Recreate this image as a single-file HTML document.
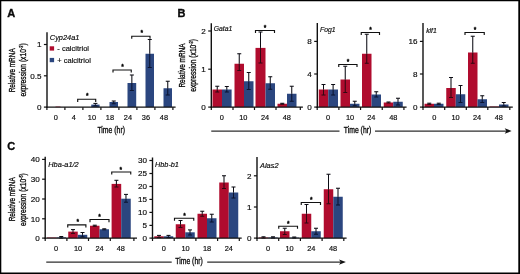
<!DOCTYPE html>
<html><head><meta charset="utf-8"><title>Figure</title>
<style>
html,body{margin:0;padding:0;background:#fff;}
body{width:520px;height:274px;overflow:hidden;}
svg{display:block;font-family:"Liberation Sans",sans-serif;fill:#0a0a0a;}
text{stroke:#0a0a0a;stroke-width:0.16px;}
.cn{stroke-width:0.34px;}
</style></head><body>
<svg width="520" height="274" viewBox="0 0 520 274">
<rect x="0" y="0" width="520" height="274" fill="#fff"/>
<rect x="55.50" y="106.60" width="5.00" height="0.55" fill="#b00c2e"/>
<rect x="91.25" y="104.60" width="8.35" height="2.55" fill="#2b467f"/>
<line x1="95.42" y1="103.40" x2="95.42" y2="104.60" stroke="#0c0c14" stroke-width="1.05"/>
<line x1="95.42" y1="104.60" x2="95.42" y2="105.80" stroke="#0b1430" stroke-width="1.05"/>
<line x1="93.42" y1="105.80" x2="97.42" y2="105.80" stroke="#0b1430" stroke-width="1.05"/>
<line x1="93.42" y1="103.40" x2="97.42" y2="103.40" stroke="#0c0c14" stroke-width="1.05"/>
<rect x="109.50" y="102.00" width="8.50" height="5.15" fill="#2b467f"/>
<line x1="113.75" y1="101.00" x2="113.75" y2="102.00" stroke="#0c0c14" stroke-width="1.05"/>
<line x1="113.75" y1="102.00" x2="113.75" y2="103.75" stroke="#0b1430" stroke-width="1.05"/>
<line x1="111.75" y1="103.75" x2="115.75" y2="103.75" stroke="#0b1430" stroke-width="1.05"/>
<line x1="111.75" y1="101.00" x2="115.75" y2="101.00" stroke="#0c0c14" stroke-width="1.05"/>
<rect x="127.50" y="83.00" width="8.70" height="24.15" fill="#2b467f"/>
<line x1="131.85" y1="75.00" x2="131.85" y2="83.00" stroke="#0c0c14" stroke-width="1.05"/>
<line x1="131.85" y1="83.00" x2="131.85" y2="90.50" stroke="#0b1430" stroke-width="1.05"/>
<line x1="129.85" y1="90.50" x2="133.85" y2="90.50" stroke="#0b1430" stroke-width="1.05"/>
<line x1="129.85" y1="75.00" x2="133.85" y2="75.00" stroke="#0c0c14" stroke-width="1.05"/>
<rect x="145.50" y="53.75" width="8.50" height="53.40" fill="#2b467f"/>
<line x1="149.75" y1="39.50" x2="149.75" y2="53.75" stroke="#0c0c14" stroke-width="1.05"/>
<line x1="149.75" y1="53.75" x2="149.75" y2="67.50" stroke="#0b1430" stroke-width="1.05"/>
<line x1="147.75" y1="67.50" x2="151.75" y2="67.50" stroke="#0b1430" stroke-width="1.05"/>
<line x1="147.75" y1="39.50" x2="151.75" y2="39.50" stroke="#0c0c14" stroke-width="1.05"/>
<rect x="163.50" y="88.25" width="8.50" height="18.90" fill="#2b467f"/>
<line x1="167.75" y1="81.25" x2="167.75" y2="88.25" stroke="#0c0c14" stroke-width="1.05"/>
<line x1="167.75" y1="88.25" x2="167.75" y2="95.00" stroke="#0b1430" stroke-width="1.05"/>
<line x1="165.75" y1="95.00" x2="169.75" y2="95.00" stroke="#0b1430" stroke-width="1.05"/>
<line x1="165.75" y1="81.25" x2="169.75" y2="81.25" stroke="#0c0c14" stroke-width="1.05"/>
<line x1="47.00" y1="32.30" x2="47.00" y2="107.85" stroke="#111" stroke-width="1.4"/>
<line x1="46.30" y1="107.15" x2="175.60" y2="107.15" stroke="#111" stroke-width="1.4"/>
<line x1="46.90" y1="107.15" x2="46.90" y2="110.05" stroke="#111" stroke-width="1.2"/>
<line x1="64.90" y1="107.15" x2="64.90" y2="110.05" stroke="#111" stroke-width="1.2"/>
<line x1="82.90" y1="107.15" x2="82.90" y2="110.05" stroke="#111" stroke-width="1.2"/>
<line x1="100.90" y1="107.15" x2="100.90" y2="110.05" stroke="#111" stroke-width="1.2"/>
<line x1="118.90" y1="107.15" x2="118.90" y2="110.05" stroke="#111" stroke-width="1.2"/>
<line x1="136.90" y1="107.15" x2="136.90" y2="110.05" stroke="#111" stroke-width="1.2"/>
<line x1="154.90" y1="107.15" x2="154.90" y2="110.05" stroke="#111" stroke-width="1.2"/>
<line x1="172.90" y1="107.15" x2="172.90" y2="110.05" stroke="#111" stroke-width="1.2"/>
<text x="55.90" y="120.00" font-size="7.4" text-anchor="middle"  >0</text>
<text x="73.90" y="120.00" font-size="7.4" text-anchor="middle"  >4</text>
<text x="91.90" y="120.00" font-size="7.4" text-anchor="middle"  >10</text>
<text x="109.90" y="120.00" font-size="7.4" text-anchor="middle"  >18</text>
<text x="127.90" y="120.00" font-size="7.4" text-anchor="middle"  >24</text>
<text x="145.90" y="120.00" font-size="7.4" text-anchor="middle"  >36</text>
<text x="163.90" y="120.00" font-size="7.4" text-anchor="middle"  >48</text>
<line x1="43.90" y1="44.50" x2="47.00" y2="44.50" stroke="#111" stroke-width="1.2"/>
<text x="41.50" y="47.35" font-size="8.1" text-anchor="end"  >1</text>
<line x1="43.90" y1="75.80" x2="47.00" y2="75.80" stroke="#111" stroke-width="1.2"/>
<text x="41.50" y="78.65" font-size="8.1" text-anchor="end"  >0.5</text>
<line x1="43.90" y1="107.10" x2="47.00" y2="107.10" stroke="#111" stroke-width="1.2"/>
<text x="41.50" y="109.95" font-size="8.1" text-anchor="end"  >0</text>
<text x="49.80" y="40.40" font-size="7.4" text-anchor="start" font-style="italic" >Cyp24a1</text>
<polyline points="77.70,102.00 77.70,99.20 95.70,99.20 95.70,102.00" fill="none" stroke="#111" stroke-width="1.15"/>
<text x="87.40" y="98.00" font-size="6.6" text-anchor="middle" style="stroke-width:0.45px" >*</text>
<polyline points="113.00,72.60 113.00,70.00 131.25,70.00 131.25,72.60" fill="none" stroke="#111" stroke-width="1.15"/>
<text x="122.50" y="69.00" font-size="6.6" text-anchor="middle" style="stroke-width:0.45px" >*</text>
<polyline points="131.75,38.85 131.75,36.25 150.00,36.25 150.00,38.85" fill="none" stroke="#111" stroke-width="1.15"/>
<text x="141.75" y="34.75" font-size="6.6" text-anchor="middle" style="stroke-width:0.45px" >*</text>
<rect x="49.70" y="46.30" width="4.40" height="4.30" fill="#b00c2e"/>
<rect x="49.70" y="57.90" width="4.40" height="4.30" fill="#2b467f"/>
<text x="57.30" y="51.00" font-size="7.5" text-anchor="start"  >- calcitriol</text>
<text x="57.30" y="62.50" font-size="7.5" text-anchor="start"  >+ calcitriol</text>
<text class="cn" transform="translate(15.10,70.30) rotate(-90)" font-size="9.6" text-anchor="middle" textLength="44.0" lengthAdjust="spacingAndGlyphs">Relative mRNA</text>
<text class="cn" transform="translate(26.40,69.90) rotate(-90)" font-size="9.6" text-anchor="middle" textLength="53.2" lengthAdjust="spacingAndGlyphs">expression (x10<tspan font-size="5.6" dy="-3.2">-3</tspan><tspan dy="3.2">)</tspan></text>
<text x="111.2" y="133.3" class="cn" font-size="9" text-anchor="middle" textLength="27.6" lengthAdjust="spacingAndGlyphs">Time (hr)</text>
<rect x="212.50" y="89.50" width="9.50" height="17.60" fill="#b00c2e"/>
<line x1="217.25" y1="86.25" x2="217.25" y2="89.50" stroke="#0c0c14" stroke-width="1.05"/>
<line x1="217.25" y1="89.50" x2="217.25" y2="92.00" stroke="#330812" stroke-width="1.05"/>
<line x1="215.25" y1="92.00" x2="219.25" y2="92.00" stroke="#330812" stroke-width="1.05"/>
<line x1="215.25" y1="86.25" x2="219.25" y2="86.25" stroke="#0c0c14" stroke-width="1.05"/>
<rect x="222.00" y="89.50" width="9.60" height="17.60" fill="#2b467f"/>
<line x1="226.80" y1="86.50" x2="226.80" y2="89.50" stroke="#0c0c14" stroke-width="1.05"/>
<line x1="226.80" y1="89.50" x2="226.80" y2="92.00" stroke="#0b1430" stroke-width="1.05"/>
<line x1="224.80" y1="92.00" x2="228.80" y2="92.00" stroke="#0b1430" stroke-width="1.05"/>
<line x1="224.80" y1="86.50" x2="228.80" y2="86.50" stroke="#0c0c14" stroke-width="1.05"/>
<rect x="234.50" y="63.75" width="9.50" height="43.35" fill="#b00c2e"/>
<line x1="239.25" y1="53.75" x2="239.25" y2="63.75" stroke="#0c0c14" stroke-width="1.05"/>
<line x1="239.25" y1="63.75" x2="239.25" y2="70.50" stroke="#330812" stroke-width="1.05"/>
<line x1="237.25" y1="70.50" x2="241.25" y2="70.50" stroke="#330812" stroke-width="1.05"/>
<line x1="237.25" y1="53.75" x2="241.25" y2="53.75" stroke="#0c0c14" stroke-width="1.05"/>
<rect x="244.00" y="81.25" width="9.50" height="25.85" fill="#2b467f"/>
<line x1="248.75" y1="72.50" x2="248.75" y2="81.25" stroke="#0c0c14" stroke-width="1.05"/>
<line x1="248.75" y1="81.25" x2="248.75" y2="89.50" stroke="#0b1430" stroke-width="1.05"/>
<line x1="246.75" y1="89.50" x2="250.75" y2="89.50" stroke="#0b1430" stroke-width="1.05"/>
<line x1="246.75" y1="72.50" x2="250.75" y2="72.50" stroke="#0c0c14" stroke-width="1.05"/>
<rect x="255.50" y="47.90" width="10.00" height="59.20" fill="#b00c2e"/>
<line x1="260.50" y1="32.00" x2="260.50" y2="47.90" stroke="#0c0c14" stroke-width="1.05"/>
<line x1="260.50" y1="47.90" x2="260.50" y2="63.00" stroke="#330812" stroke-width="1.05"/>
<line x1="258.50" y1="63.00" x2="262.50" y2="63.00" stroke="#330812" stroke-width="1.05"/>
<line x1="258.50" y1="32.00" x2="262.50" y2="32.00" stroke="#0c0c14" stroke-width="1.05"/>
<rect x="265.50" y="83.25" width="9.50" height="23.85" fill="#2b467f"/>
<line x1="270.25" y1="76.75" x2="270.25" y2="83.25" stroke="#0c0c14" stroke-width="1.05"/>
<line x1="270.25" y1="83.25" x2="270.25" y2="89.25" stroke="#0b1430" stroke-width="1.05"/>
<line x1="268.25" y1="89.25" x2="272.25" y2="89.25" stroke="#0b1430" stroke-width="1.05"/>
<line x1="268.25" y1="76.75" x2="272.25" y2="76.75" stroke="#0c0c14" stroke-width="1.05"/>
<rect x="277.50" y="103.75" width="9.50" height="3.35" fill="#b00c2e"/>
<line x1="282.25" y1="103.30" x2="282.25" y2="103.75" stroke="#0c0c14" stroke-width="1.05"/>
<line x1="282.25" y1="103.75" x2="282.25" y2="104.30" stroke="#330812" stroke-width="1.05"/>
<line x1="280.25" y1="104.30" x2="284.25" y2="104.30" stroke="#330812" stroke-width="1.05"/>
<line x1="280.25" y1="103.30" x2="284.25" y2="103.30" stroke="#0c0c14" stroke-width="1.05"/>
<rect x="287.00" y="93.75" width="9.50" height="13.35" fill="#2b467f"/>
<line x1="291.75" y1="86.25" x2="291.75" y2="93.75" stroke="#0c0c14" stroke-width="1.05"/>
<line x1="291.75" y1="93.75" x2="291.75" y2="101.25" stroke="#0b1430" stroke-width="1.05"/>
<line x1="289.75" y1="101.25" x2="293.75" y2="101.25" stroke="#0b1430" stroke-width="1.05"/>
<line x1="289.75" y1="86.25" x2="293.75" y2="86.25" stroke="#0c0c14" stroke-width="1.05"/>
<line x1="211.30" y1="23.20" x2="211.30" y2="107.80" stroke="#111" stroke-width="1.4"/>
<line x1="210.60" y1="107.10" x2="302.90" y2="107.10" stroke="#111" stroke-width="1.4"/>
<line x1="211.30" y1="107.10" x2="211.30" y2="110.00" stroke="#111" stroke-width="1.2"/>
<line x1="233.00" y1="107.10" x2="233.00" y2="110.00" stroke="#111" stroke-width="1.2"/>
<line x1="254.50" y1="107.10" x2="254.50" y2="110.00" stroke="#111" stroke-width="1.2"/>
<line x1="276.00" y1="107.10" x2="276.00" y2="110.00" stroke="#111" stroke-width="1.2"/>
<line x1="300.30" y1="107.10" x2="300.30" y2="110.00" stroke="#111" stroke-width="1.2"/>
<text x="221.75" y="120.00" font-size="7.4" text-anchor="middle"  >0</text>
<text x="243.25" y="120.00" font-size="7.4" text-anchor="middle"  >10</text>
<text x="265.00" y="120.00" font-size="7.4" text-anchor="middle"  >24</text>
<text x="286.75" y="120.00" font-size="7.4" text-anchor="middle"  >48</text>
<line x1="208.20" y1="31.00" x2="211.30" y2="31.00" stroke="#111" stroke-width="1.2"/>
<text x="205.80" y="33.85" font-size="8.1" text-anchor="end"  >2</text>
<line x1="208.20" y1="69.20" x2="211.30" y2="69.20" stroke="#111" stroke-width="1.2"/>
<text x="205.80" y="72.05" font-size="8.1" text-anchor="end"  >1</text>
<line x1="208.20" y1="107.10" x2="211.30" y2="107.10" stroke="#111" stroke-width="1.2"/>
<text x="205.80" y="109.95" font-size="8.1" text-anchor="end"  >0</text>
<text x="213.80" y="31.20" font-size="6.8" text-anchor="start" font-style="italic" >Gata1</text>
<polyline points="255.50,32.90 255.50,30.50 274.50,30.50 274.50,32.90" fill="none" stroke="#111" stroke-width="1.15"/>
<text x="265.00" y="29.50" font-size="6.6" text-anchor="middle" style="stroke-width:0.45px" >*</text>
<text class="cn" transform="translate(185.10,65.50) rotate(-90)" font-size="9.6" text-anchor="middle" textLength="44.2" lengthAdjust="spacingAndGlyphs">Relative mRNA</text>
<text class="cn" transform="translate(196.20,65.40) rotate(-90)" font-size="9.6" text-anchor="middle" textLength="52.8" lengthAdjust="spacingAndGlyphs">expression (x10<tspan font-size="5.6" dy="-3.2">-3</tspan><tspan dy="3.2">)</tspan></text>
<rect x="318.75" y="89.50" width="9.50" height="17.60" fill="#b00c2e"/>
<line x1="323.50" y1="84.50" x2="323.50" y2="89.50" stroke="#0c0c14" stroke-width="1.05"/>
<line x1="323.50" y1="89.50" x2="323.50" y2="95.00" stroke="#330812" stroke-width="1.05"/>
<line x1="321.50" y1="95.00" x2="325.50" y2="95.00" stroke="#330812" stroke-width="1.05"/>
<line x1="321.50" y1="84.50" x2="325.50" y2="84.50" stroke="#0c0c14" stroke-width="1.05"/>
<rect x="328.25" y="89.50" width="9.75" height="17.60" fill="#2b467f"/>
<line x1="333.12" y1="84.50" x2="333.12" y2="89.50" stroke="#0c0c14" stroke-width="1.05"/>
<line x1="333.12" y1="89.50" x2="333.12" y2="95.00" stroke="#0b1430" stroke-width="1.05"/>
<line x1="331.12" y1="95.00" x2="335.12" y2="95.00" stroke="#0b1430" stroke-width="1.05"/>
<line x1="331.12" y1="84.50" x2="335.12" y2="84.50" stroke="#0c0c14" stroke-width="1.05"/>
<rect x="340.50" y="79.50" width="9.50" height="27.60" fill="#b00c2e"/>
<line x1="345.25" y1="66.25" x2="345.25" y2="79.50" stroke="#0c0c14" stroke-width="1.05"/>
<line x1="345.25" y1="79.50" x2="345.25" y2="92.50" stroke="#330812" stroke-width="1.05"/>
<line x1="343.25" y1="92.50" x2="347.25" y2="92.50" stroke="#330812" stroke-width="1.05"/>
<line x1="343.25" y1="66.25" x2="347.25" y2="66.25" stroke="#0c0c14" stroke-width="1.05"/>
<rect x="350.00" y="103.75" width="9.50" height="3.35" fill="#2b467f"/>
<line x1="354.75" y1="101.25" x2="354.75" y2="103.75" stroke="#0c0c14" stroke-width="1.05"/>
<line x1="354.75" y1="103.75" x2="354.75" y2="105.75" stroke="#0b1430" stroke-width="1.05"/>
<line x1="352.75" y1="105.75" x2="356.75" y2="105.75" stroke="#0b1430" stroke-width="1.05"/>
<line x1="352.75" y1="101.25" x2="356.75" y2="101.25" stroke="#0c0c14" stroke-width="1.05"/>
<rect x="362.00" y="53.75" width="9.50" height="53.35" fill="#b00c2e"/>
<line x1="366.75" y1="34.25" x2="366.75" y2="53.75" stroke="#0c0c14" stroke-width="1.05"/>
<line x1="366.75" y1="53.75" x2="366.75" y2="63.25" stroke="#330812" stroke-width="1.05"/>
<line x1="364.75" y1="63.25" x2="368.75" y2="63.25" stroke="#330812" stroke-width="1.05"/>
<line x1="364.75" y1="34.25" x2="368.75" y2="34.25" stroke="#0c0c14" stroke-width="1.05"/>
<rect x="371.50" y="94.50" width="9.50" height="12.60" fill="#2b467f"/>
<line x1="376.25" y1="91.75" x2="376.25" y2="94.50" stroke="#0c0c14" stroke-width="1.05"/>
<line x1="376.25" y1="94.50" x2="376.25" y2="97.00" stroke="#0b1430" stroke-width="1.05"/>
<line x1="374.25" y1="97.00" x2="378.25" y2="97.00" stroke="#0b1430" stroke-width="1.05"/>
<line x1="374.25" y1="91.75" x2="378.25" y2="91.75" stroke="#0c0c14" stroke-width="1.05"/>
<rect x="383.75" y="102.50" width="9.50" height="4.60" fill="#b00c2e"/>
<line x1="388.50" y1="102.00" x2="388.50" y2="102.50" stroke="#0c0c14" stroke-width="1.05"/>
<line x1="388.50" y1="102.50" x2="388.50" y2="103.00" stroke="#330812" stroke-width="1.05"/>
<line x1="386.50" y1="103.00" x2="390.50" y2="103.00" stroke="#330812" stroke-width="1.05"/>
<line x1="386.50" y1="102.00" x2="390.50" y2="102.00" stroke="#0c0c14" stroke-width="1.05"/>
<rect x="393.25" y="101.75" width="9.50" height="5.35" fill="#2b467f"/>
<line x1="398.00" y1="98.25" x2="398.00" y2="101.75" stroke="#0c0c14" stroke-width="1.05"/>
<line x1="398.00" y1="101.75" x2="398.00" y2="105.00" stroke="#0b1430" stroke-width="1.05"/>
<line x1="396.00" y1="105.00" x2="400.00" y2="105.00" stroke="#0b1430" stroke-width="1.05"/>
<line x1="396.00" y1="98.25" x2="400.00" y2="98.25" stroke="#0c0c14" stroke-width="1.05"/>
<line x1="317.30" y1="23.00" x2="317.30" y2="107.80" stroke="#111" stroke-width="1.4"/>
<line x1="316.60" y1="107.10" x2="406.60" y2="107.10" stroke="#111" stroke-width="1.4"/>
<line x1="317.20" y1="107.10" x2="317.20" y2="110.00" stroke="#111" stroke-width="1.2"/>
<line x1="338.88" y1="107.10" x2="338.88" y2="110.00" stroke="#111" stroke-width="1.2"/>
<line x1="360.56" y1="107.10" x2="360.56" y2="110.00" stroke="#111" stroke-width="1.2"/>
<line x1="382.24" y1="107.10" x2="382.24" y2="110.00" stroke="#111" stroke-width="1.2"/>
<line x1="403.92" y1="107.10" x2="403.92" y2="110.00" stroke="#111" stroke-width="1.2"/>
<text x="328.00" y="120.00" font-size="7.4" text-anchor="middle"  >0</text>
<text x="350.00" y="120.00" font-size="7.4" text-anchor="middle"  >10</text>
<text x="371.25" y="120.00" font-size="7.4" text-anchor="middle"  >24</text>
<text x="393.25" y="120.00" font-size="7.4" text-anchor="middle"  >48</text>
<line x1="314.20" y1="41.40" x2="317.30" y2="41.40" stroke="#111" stroke-width="1.2"/>
<text x="311.80" y="44.25" font-size="8.1" text-anchor="end"  >8</text>
<line x1="314.20" y1="74.00" x2="317.30" y2="74.00" stroke="#111" stroke-width="1.2"/>
<text x="311.80" y="76.85" font-size="8.1" text-anchor="end"  >4</text>
<line x1="314.20" y1="107.10" x2="317.30" y2="107.10" stroke="#111" stroke-width="1.2"/>
<text x="311.80" y="109.95" font-size="8.1" text-anchor="end"  >0</text>
<text x="320.00" y="31.80" font-size="6.8" text-anchor="start" font-style="italic" >Fog1</text>
<polyline points="361.25,34.90 361.25,32.50 379.50,32.50 379.50,34.90" fill="none" stroke="#111" stroke-width="1.15"/>
<text x="370.50" y="31.50" font-size="6.6" text-anchor="middle" style="stroke-width:0.45px" >*</text>
<polyline points="338.75,66.90 338.75,64.50 357.00,64.50 357.00,66.90" fill="none" stroke="#111" stroke-width="1.15"/>
<text x="348.00" y="63.50" font-size="6.6" text-anchor="middle" style="stroke-width:0.45px" >*</text>
<rect x="424.50" y="103.75" width="9.50" height="3.35" fill="#b00c2e"/>
<line x1="429.25" y1="103.20" x2="429.25" y2="103.75" stroke="#0c0c14" stroke-width="1.05"/>
<line x1="429.25" y1="103.75" x2="429.25" y2="104.40" stroke="#330812" stroke-width="1.05"/>
<line x1="427.25" y1="104.40" x2="431.25" y2="104.40" stroke="#330812" stroke-width="1.05"/>
<line x1="427.25" y1="103.20" x2="431.25" y2="103.20" stroke="#0c0c14" stroke-width="1.05"/>
<rect x="434.00" y="103.75" width="9.50" height="3.35" fill="#2b467f"/>
<line x1="438.75" y1="103.20" x2="438.75" y2="103.75" stroke="#0c0c14" stroke-width="1.05"/>
<line x1="438.75" y1="103.75" x2="438.75" y2="104.40" stroke="#0b1430" stroke-width="1.05"/>
<line x1="436.75" y1="104.40" x2="440.75" y2="104.40" stroke="#0b1430" stroke-width="1.05"/>
<line x1="436.75" y1="103.20" x2="440.75" y2="103.20" stroke="#0c0c14" stroke-width="1.05"/>
<rect x="446.25" y="88.00" width="9.50" height="19.10" fill="#b00c2e"/>
<line x1="451.00" y1="77.50" x2="451.00" y2="88.00" stroke="#0c0c14" stroke-width="1.05"/>
<line x1="451.00" y1="88.00" x2="451.00" y2="97.50" stroke="#330812" stroke-width="1.05"/>
<line x1="449.00" y1="97.50" x2="453.00" y2="97.50" stroke="#330812" stroke-width="1.05"/>
<line x1="449.00" y1="77.50" x2="453.00" y2="77.50" stroke="#0c0c14" stroke-width="1.05"/>
<rect x="455.75" y="94.25" width="9.50" height="12.85" fill="#2b467f"/>
<line x1="460.50" y1="85.50" x2="460.50" y2="94.25" stroke="#0c0c14" stroke-width="1.05"/>
<line x1="460.50" y1="94.25" x2="460.50" y2="102.50" stroke="#0b1430" stroke-width="1.05"/>
<line x1="458.50" y1="102.50" x2="462.50" y2="102.50" stroke="#0b1430" stroke-width="1.05"/>
<line x1="458.50" y1="85.50" x2="462.50" y2="85.50" stroke="#0c0c14" stroke-width="1.05"/>
<rect x="468.00" y="52.50" width="9.50" height="54.60" fill="#b00c2e"/>
<line x1="472.75" y1="36.25" x2="472.75" y2="52.50" stroke="#0c0c14" stroke-width="1.05"/>
<line x1="472.75" y1="52.50" x2="472.75" y2="63.25" stroke="#330812" stroke-width="1.05"/>
<line x1="470.75" y1="63.25" x2="474.75" y2="63.25" stroke="#330812" stroke-width="1.05"/>
<line x1="470.75" y1="36.25" x2="474.75" y2="36.25" stroke="#0c0c14" stroke-width="1.05"/>
<rect x="477.50" y="99.25" width="9.50" height="7.85" fill="#2b467f"/>
<line x1="482.25" y1="95.75" x2="482.25" y2="99.25" stroke="#0c0c14" stroke-width="1.05"/>
<line x1="482.25" y1="99.25" x2="482.25" y2="102.50" stroke="#0b1430" stroke-width="1.05"/>
<line x1="480.25" y1="102.50" x2="484.25" y2="102.50" stroke="#0b1430" stroke-width="1.05"/>
<line x1="480.25" y1="95.75" x2="484.25" y2="95.75" stroke="#0c0c14" stroke-width="1.05"/>
<rect x="489.50" y="106.50" width="9.50" height="0.60" fill="#b00c2e"/>
<rect x="499.00" y="104.50" width="9.50" height="2.60" fill="#2b467f"/>
<line x1="503.75" y1="102.50" x2="503.75" y2="104.50" stroke="#0c0c14" stroke-width="1.05"/>
<line x1="503.75" y1="104.50" x2="503.75" y2="106.00" stroke="#0b1430" stroke-width="1.05"/>
<line x1="501.75" y1="106.00" x2="505.75" y2="106.00" stroke="#0b1430" stroke-width="1.05"/>
<line x1="501.75" y1="102.50" x2="505.75" y2="102.50" stroke="#0c0c14" stroke-width="1.05"/>
<line x1="423.00" y1="23.00" x2="423.00" y2="107.80" stroke="#111" stroke-width="1.4"/>
<line x1="422.30" y1="107.10" x2="512.80" y2="107.10" stroke="#111" stroke-width="1.4"/>
<line x1="423.00" y1="107.10" x2="423.00" y2="110.00" stroke="#111" stroke-width="1.2"/>
<line x1="444.70" y1="107.10" x2="444.70" y2="110.00" stroke="#111" stroke-width="1.2"/>
<line x1="466.30" y1="107.10" x2="466.30" y2="110.00" stroke="#111" stroke-width="1.2"/>
<line x1="487.80" y1="107.10" x2="487.80" y2="110.00" stroke="#111" stroke-width="1.2"/>
<line x1="509.80" y1="107.10" x2="509.80" y2="110.00" stroke="#111" stroke-width="1.2"/>
<text x="434.25" y="120.00" font-size="7.4" text-anchor="middle"  >0</text>
<text x="455.50" y="120.00" font-size="7.4" text-anchor="middle"  >10</text>
<text x="477.00" y="120.00" font-size="7.4" text-anchor="middle"  >24</text>
<text x="498.75" y="120.00" font-size="7.4" text-anchor="middle"  >48</text>
<line x1="419.90" y1="41.40" x2="423.00" y2="41.40" stroke="#111" stroke-width="1.2"/>
<text x="417.50" y="44.25" font-size="8.1" text-anchor="end"  >16</text>
<line x1="419.90" y1="74.00" x2="423.00" y2="74.00" stroke="#111" stroke-width="1.2"/>
<text x="417.50" y="76.85" font-size="8.1" text-anchor="end"  >8</text>
<line x1="419.90" y1="107.10" x2="423.00" y2="107.10" stroke="#111" stroke-width="1.2"/>
<text x="417.50" y="109.95" font-size="8.1" text-anchor="end"  >0</text>
<text x="426.20" y="32.90" font-size="6.8" text-anchor="start" font-style="italic" >klf1</text>
<polyline points="465.00,34.90 465.00,32.50 484.25,32.50 484.25,34.90" fill="none" stroke="#111" stroke-width="1.15"/>
<text x="475.00" y="31.50" font-size="6.6" text-anchor="middle" style="stroke-width:0.45px" >*</text>
<line x1="211.25" y1="131.00" x2="339.50" y2="131.00" stroke="#2e2e2e" stroke-width="1.25"/>
<line x1="375.00" y1="131.00" x2="507.60" y2="131.00" stroke="#2e2e2e" stroke-width="1.25"/>
<path d="M511.60,131.00 L504.70,128.30 L506.40,131.00 L504.70,133.70 Z" fill="#111"/>
<text x="357.5" y="132.50" class="cn" font-size="9" text-anchor="middle" textLength="27.5" lengthAdjust="spacingAndGlyphs">Time (hr)</text>
<rect x="47.00" y="237.50" width="9.50" height="0.60" fill="#b00c2e"/>
<rect x="56.50" y="237.40" width="9.50" height="0.70" fill="#2b467f"/>
<line x1="61.25" y1="236.50" x2="61.25" y2="237.40" stroke="#0c0c14" stroke-width="1.05"/>
<line x1="61.25" y1="237.40" x2="61.25" y2="238.00" stroke="#0b1430" stroke-width="1.05"/>
<line x1="59.25" y1="238.00" x2="63.25" y2="238.00" stroke="#0b1430" stroke-width="1.05"/>
<line x1="59.25" y1="236.50" x2="63.25" y2="236.50" stroke="#0c0c14" stroke-width="1.05"/>
<rect x="68.25" y="231.60" width="9.50" height="6.50" fill="#b00c2e"/>
<line x1="73.00" y1="229.60" x2="73.00" y2="231.60" stroke="#0c0c14" stroke-width="1.05"/>
<line x1="73.00" y1="231.60" x2="73.00" y2="233.40" stroke="#330812" stroke-width="1.05"/>
<line x1="71.00" y1="233.40" x2="75.00" y2="233.40" stroke="#330812" stroke-width="1.05"/>
<line x1="71.00" y1="229.60" x2="75.00" y2="229.60" stroke="#0c0c14" stroke-width="1.05"/>
<rect x="77.75" y="234.80" width="9.50" height="3.30" fill="#2b467f"/>
<line x1="82.50" y1="232.50" x2="82.50" y2="234.80" stroke="#0c0c14" stroke-width="1.05"/>
<line x1="82.50" y1="234.80" x2="82.50" y2="236.80" stroke="#0b1430" stroke-width="1.05"/>
<line x1="80.50" y1="236.80" x2="84.50" y2="236.80" stroke="#0b1430" stroke-width="1.05"/>
<line x1="80.50" y1="232.50" x2="84.50" y2="232.50" stroke="#0c0c14" stroke-width="1.05"/>
<rect x="90.00" y="225.75" width="9.50" height="12.35" fill="#b00c2e"/>
<line x1="94.75" y1="225.20" x2="94.75" y2="225.75" stroke="#0c0c14" stroke-width="1.05"/>
<line x1="94.75" y1="225.75" x2="94.75" y2="226.30" stroke="#330812" stroke-width="1.05"/>
<line x1="92.75" y1="226.30" x2="96.75" y2="226.30" stroke="#330812" stroke-width="1.05"/>
<line x1="92.75" y1="225.20" x2="96.75" y2="225.20" stroke="#0c0c14" stroke-width="1.05"/>
<rect x="99.50" y="229.25" width="9.50" height="8.85" fill="#2b467f"/>
<line x1="104.25" y1="228.80" x2="104.25" y2="229.25" stroke="#0c0c14" stroke-width="1.05"/>
<line x1="104.25" y1="229.25" x2="104.25" y2="229.80" stroke="#0b1430" stroke-width="1.05"/>
<line x1="102.25" y1="229.80" x2="106.25" y2="229.80" stroke="#0b1430" stroke-width="1.05"/>
<line x1="102.25" y1="228.80" x2="106.25" y2="228.80" stroke="#0c0c14" stroke-width="1.05"/>
<rect x="111.60" y="183.90" width="9.60" height="54.20" fill="#b00c2e"/>
<line x1="116.40" y1="180.30" x2="116.40" y2="183.90" stroke="#0c0c14" stroke-width="1.05"/>
<line x1="116.40" y1="183.90" x2="116.40" y2="187.00" stroke="#330812" stroke-width="1.05"/>
<line x1="114.40" y1="187.00" x2="118.40" y2="187.00" stroke="#330812" stroke-width="1.05"/>
<line x1="114.40" y1="180.30" x2="118.40" y2="180.30" stroke="#0c0c14" stroke-width="1.05"/>
<rect x="121.20" y="198.70" width="9.55" height="39.40" fill="#2b467f"/>
<line x1="125.97" y1="194.40" x2="125.97" y2="198.70" stroke="#0c0c14" stroke-width="1.05"/>
<line x1="125.97" y1="198.70" x2="125.97" y2="202.20" stroke="#0b1430" stroke-width="1.05"/>
<line x1="123.97" y1="202.20" x2="127.97" y2="202.20" stroke="#0b1430" stroke-width="1.05"/>
<line x1="123.97" y1="194.40" x2="127.97" y2="194.40" stroke="#0c0c14" stroke-width="1.05"/>
<line x1="45.20" y1="156.80" x2="45.20" y2="238.80" stroke="#111" stroke-width="1.4"/>
<line x1="44.50" y1="238.10" x2="137.00" y2="238.10" stroke="#111" stroke-width="1.4"/>
<line x1="45.20" y1="238.10" x2="45.20" y2="241.00" stroke="#111" stroke-width="1.2"/>
<line x1="66.90" y1="238.10" x2="66.90" y2="241.00" stroke="#111" stroke-width="1.2"/>
<line x1="88.50" y1="238.10" x2="88.50" y2="241.00" stroke="#111" stroke-width="1.2"/>
<line x1="110.30" y1="238.10" x2="110.30" y2="241.00" stroke="#111" stroke-width="1.2"/>
<line x1="133.90" y1="238.10" x2="133.90" y2="241.00" stroke="#111" stroke-width="1.2"/>
<text x="56.00" y="250.70" font-size="7.4" text-anchor="middle"  >0</text>
<text x="78.00" y="250.70" font-size="7.4" text-anchor="middle"  >10</text>
<text x="99.50" y="250.70" font-size="7.4" text-anchor="middle"  >24</text>
<text x="120.75" y="250.70" font-size="7.4" text-anchor="middle"  >48</text>
<line x1="42.10" y1="159.40" x2="45.20" y2="159.40" stroke="#111" stroke-width="1.2"/>
<text x="39.70" y="162.25" font-size="8.1" text-anchor="end"  >40</text>
<line x1="42.10" y1="179.20" x2="45.20" y2="179.20" stroke="#111" stroke-width="1.2"/>
<text x="39.70" y="182.05" font-size="8.1" text-anchor="end"  >30</text>
<line x1="42.10" y1="199.00" x2="45.20" y2="199.00" stroke="#111" stroke-width="1.2"/>
<text x="39.70" y="201.85" font-size="8.1" text-anchor="end"  >20</text>
<line x1="42.10" y1="218.80" x2="45.20" y2="218.80" stroke="#111" stroke-width="1.2"/>
<text x="39.70" y="221.65" font-size="8.1" text-anchor="end"  >10</text>
<line x1="42.10" y1="238.10" x2="45.20" y2="238.10" stroke="#111" stroke-width="1.2"/>
<text x="39.70" y="240.95" font-size="8.1" text-anchor="end"  >0</text>
<text x="48.25" y="167.40" font-size="7.4" text-anchor="start" font-style="italic" >Hba-a1/2</text>
<polyline points="67.75,227.50 67.75,224.80 85.90,224.80 85.90,227.50" fill="none" stroke="#111" stroke-width="1.15"/>
<text x="77.75" y="224.20" font-size="6.6" text-anchor="middle" style="stroke-width:0.45px" >*</text>
<polyline points="90.00,222.30 90.00,219.50 109.00,219.50 109.00,222.30" fill="none" stroke="#111" stroke-width="1.15"/>
<text x="99.50" y="219.00" font-size="6.6" text-anchor="middle" style="stroke-width:0.45px" >*</text>
<polyline points="111.75,174.50 111.75,172.00 130.75,172.00 130.75,174.50" fill="none" stroke="#111" stroke-width="1.15"/>
<text x="120.75" y="171.50" font-size="6.6" text-anchor="middle" style="stroke-width:0.45px" >*</text>
<text class="cn" transform="translate(15.10,199.30) rotate(-90)" font-size="9.6" text-anchor="middle" textLength="44.0" lengthAdjust="spacingAndGlyphs">Relative mRNA</text>
<text class="cn" transform="translate(26.40,199.60) rotate(-90)" font-size="9.6" text-anchor="middle" textLength="52.8" lengthAdjust="spacingAndGlyphs">expression (x10<tspan font-size="5.6" dy="-3.2">-6</tspan><tspan dy="3.2">)</tspan></text>
<rect x="154.25" y="236.30" width="9.50" height="1.80" fill="#b00c2e"/>
<line x1="159.00" y1="235.40" x2="159.00" y2="236.30" stroke="#0c0c14" stroke-width="1.05"/>
<line x1="159.00" y1="236.30" x2="159.00" y2="237.60" stroke="#330812" stroke-width="1.05"/>
<line x1="157.00" y1="237.60" x2="161.00" y2="237.60" stroke="#330812" stroke-width="1.05"/>
<line x1="157.00" y1="235.40" x2="161.00" y2="235.40" stroke="#0c0c14" stroke-width="1.05"/>
<rect x="163.75" y="236.30" width="9.50" height="1.80" fill="#2b467f"/>
<line x1="168.50" y1="235.40" x2="168.50" y2="236.30" stroke="#0c0c14" stroke-width="1.05"/>
<line x1="168.50" y1="236.30" x2="168.50" y2="237.60" stroke="#0b1430" stroke-width="1.05"/>
<line x1="166.50" y1="237.60" x2="170.50" y2="237.60" stroke="#0b1430" stroke-width="1.05"/>
<line x1="166.50" y1="235.40" x2="170.50" y2="235.40" stroke="#0c0c14" stroke-width="1.05"/>
<rect x="175.75" y="224.25" width="9.50" height="13.85" fill="#b00c2e"/>
<line x1="180.50" y1="220.50" x2="180.50" y2="224.25" stroke="#0c0c14" stroke-width="1.05"/>
<line x1="180.50" y1="224.25" x2="180.50" y2="227.50" stroke="#330812" stroke-width="1.05"/>
<line x1="178.50" y1="227.50" x2="182.50" y2="227.50" stroke="#330812" stroke-width="1.05"/>
<line x1="178.50" y1="220.50" x2="182.50" y2="220.50" stroke="#0c0c14" stroke-width="1.05"/>
<rect x="185.25" y="232.30" width="9.50" height="5.80" fill="#2b467f"/>
<line x1="190.00" y1="229.90" x2="190.00" y2="232.30" stroke="#0c0c14" stroke-width="1.05"/>
<line x1="190.00" y1="232.30" x2="190.00" y2="235.00" stroke="#0b1430" stroke-width="1.05"/>
<line x1="188.00" y1="235.00" x2="192.00" y2="235.00" stroke="#0b1430" stroke-width="1.05"/>
<line x1="188.00" y1="229.90" x2="192.00" y2="229.90" stroke="#0c0c14" stroke-width="1.05"/>
<rect x="197.50" y="213.75" width="9.50" height="24.35" fill="#b00c2e"/>
<line x1="202.25" y1="211.25" x2="202.25" y2="213.75" stroke="#0c0c14" stroke-width="1.05"/>
<line x1="202.25" y1="213.75" x2="202.25" y2="216.25" stroke="#330812" stroke-width="1.05"/>
<line x1="200.25" y1="216.25" x2="204.25" y2="216.25" stroke="#330812" stroke-width="1.05"/>
<line x1="200.25" y1="211.25" x2="204.25" y2="211.25" stroke="#0c0c14" stroke-width="1.05"/>
<rect x="207.00" y="218.25" width="9.50" height="19.85" fill="#2b467f"/>
<line x1="211.75" y1="214.25" x2="211.75" y2="218.25" stroke="#0c0c14" stroke-width="1.05"/>
<line x1="211.75" y1="218.25" x2="211.75" y2="222.00" stroke="#0b1430" stroke-width="1.05"/>
<line x1="209.75" y1="222.00" x2="213.75" y2="222.00" stroke="#0b1430" stroke-width="1.05"/>
<line x1="209.75" y1="214.25" x2="213.75" y2="214.25" stroke="#0c0c14" stroke-width="1.05"/>
<rect x="219.25" y="182.50" width="9.50" height="55.60" fill="#b00c2e"/>
<line x1="224.00" y1="175.75" x2="224.00" y2="182.50" stroke="#0c0c14" stroke-width="1.05"/>
<line x1="224.00" y1="182.50" x2="224.00" y2="188.50" stroke="#330812" stroke-width="1.05"/>
<line x1="222.00" y1="188.50" x2="226.00" y2="188.50" stroke="#330812" stroke-width="1.05"/>
<line x1="222.00" y1="175.75" x2="226.00" y2="175.75" stroke="#0c0c14" stroke-width="1.05"/>
<rect x="228.75" y="192.50" width="9.50" height="45.60" fill="#2b467f"/>
<line x1="233.50" y1="187.00" x2="233.50" y2="192.50" stroke="#0c0c14" stroke-width="1.05"/>
<line x1="233.50" y1="192.50" x2="233.50" y2="198.00" stroke="#0b1430" stroke-width="1.05"/>
<line x1="231.50" y1="198.00" x2="235.50" y2="198.00" stroke="#0b1430" stroke-width="1.05"/>
<line x1="231.50" y1="187.00" x2="235.50" y2="187.00" stroke="#0c0c14" stroke-width="1.05"/>
<line x1="152.50" y1="157.50" x2="152.50" y2="238.80" stroke="#111" stroke-width="1.4"/>
<line x1="151.80" y1="238.10" x2="241.70" y2="238.10" stroke="#111" stroke-width="1.4"/>
<line x1="152.50" y1="238.10" x2="152.50" y2="241.00" stroke="#111" stroke-width="1.2"/>
<line x1="174.20" y1="238.10" x2="174.20" y2="241.00" stroke="#111" stroke-width="1.2"/>
<line x1="195.90" y1="238.10" x2="195.90" y2="241.00" stroke="#111" stroke-width="1.2"/>
<line x1="217.60" y1="238.10" x2="217.60" y2="241.00" stroke="#111" stroke-width="1.2"/>
<line x1="239.30" y1="238.10" x2="239.30" y2="241.00" stroke="#111" stroke-width="1.2"/>
<text x="163.75" y="250.70" font-size="7.4" text-anchor="middle"  >0</text>
<text x="185.50" y="250.70" font-size="7.4" text-anchor="middle"  >10</text>
<text x="207.00" y="250.70" font-size="7.4" text-anchor="middle"  >18</text>
<text x="228.75" y="250.70" font-size="7.4" text-anchor="middle"  >24</text>
<line x1="149.40" y1="160.50" x2="152.50" y2="160.50" stroke="#111" stroke-width="1.2"/>
<text x="147.00" y="163.35" font-size="8.1" text-anchor="end"  >30</text>
<line x1="149.40" y1="173.50" x2="152.50" y2="173.50" stroke="#111" stroke-width="1.2"/>
<text x="147.00" y="176.35" font-size="8.1" text-anchor="end"  >25</text>
<line x1="149.40" y1="186.50" x2="152.50" y2="186.50" stroke="#111" stroke-width="1.2"/>
<text x="147.00" y="189.35" font-size="8.1" text-anchor="end"  >20</text>
<line x1="149.40" y1="199.40" x2="152.50" y2="199.40" stroke="#111" stroke-width="1.2"/>
<text x="147.00" y="202.25" font-size="8.1" text-anchor="end"  >15</text>
<line x1="149.40" y1="212.40" x2="152.50" y2="212.40" stroke="#111" stroke-width="1.2"/>
<text x="147.00" y="215.25" font-size="8.1" text-anchor="end"  >10</text>
<line x1="149.40" y1="225.40" x2="152.50" y2="225.40" stroke="#111" stroke-width="1.2"/>
<text x="147.00" y="228.25" font-size="8.1" text-anchor="end"  >5</text>
<line x1="149.40" y1="238.10" x2="152.50" y2="238.10" stroke="#111" stroke-width="1.2"/>
<text x="147.00" y="240.95" font-size="8.1" text-anchor="end"  >0</text>
<text x="155.00" y="167.40" font-size="7.3" text-anchor="start" font-style="italic" >Hbb-b1</text>
<polyline points="174.50,220.75 174.50,218.25 193.75,218.25 193.75,220.75" fill="none" stroke="#111" stroke-width="1.15"/>
<text x="184.50" y="217.75" font-size="6.6" text-anchor="middle" style="stroke-width:0.45px" >*</text>
<rect x="258.75" y="237.50" width="9.50" height="0.60" fill="#b00c2e"/>
<line x1="263.50" y1="236.80" x2="263.50" y2="237.50" stroke="#0c0c14" stroke-width="1.05"/>
<line x1="263.50" y1="237.50" x2="263.50" y2="238.00" stroke="#330812" stroke-width="1.05"/>
<line x1="261.50" y1="238.00" x2="265.50" y2="238.00" stroke="#330812" stroke-width="1.05"/>
<line x1="261.50" y1="236.80" x2="265.50" y2="236.80" stroke="#0c0c14" stroke-width="1.05"/>
<rect x="268.25" y="237.50" width="9.50" height="0.60" fill="#2b467f"/>
<line x1="273.00" y1="236.80" x2="273.00" y2="237.50" stroke="#0c0c14" stroke-width="1.05"/>
<line x1="273.00" y1="237.50" x2="273.00" y2="238.00" stroke="#0b1430" stroke-width="1.05"/>
<line x1="271.00" y1="238.00" x2="275.00" y2="238.00" stroke="#0b1430" stroke-width="1.05"/>
<line x1="271.00" y1="236.80" x2="275.00" y2="236.80" stroke="#0c0c14" stroke-width="1.05"/>
<rect x="280.00" y="231.25" width="9.50" height="6.85" fill="#b00c2e"/>
<line x1="284.75" y1="228.25" x2="284.75" y2="231.25" stroke="#0c0c14" stroke-width="1.05"/>
<line x1="284.75" y1="231.25" x2="284.75" y2="234.50" stroke="#330812" stroke-width="1.05"/>
<line x1="282.75" y1="234.50" x2="286.75" y2="234.50" stroke="#330812" stroke-width="1.05"/>
<line x1="282.75" y1="228.25" x2="286.75" y2="228.25" stroke="#0c0c14" stroke-width="1.05"/>
<rect x="289.50" y="237.60" width="9.50" height="0.50" fill="#2b467f"/>
<line x1="294.25" y1="237.00" x2="294.25" y2="237.60" stroke="#0c0c14" stroke-width="1.05"/>
<line x1="294.25" y1="237.60" x2="294.25" y2="238.00" stroke="#0b1430" stroke-width="1.05"/>
<line x1="292.25" y1="238.00" x2="296.25" y2="238.00" stroke="#0b1430" stroke-width="1.05"/>
<line x1="292.25" y1="237.00" x2="296.25" y2="237.00" stroke="#0c0c14" stroke-width="1.05"/>
<rect x="301.75" y="213.75" width="9.50" height="24.35" fill="#b00c2e"/>
<line x1="306.50" y1="204.50" x2="306.50" y2="213.75" stroke="#0c0c14" stroke-width="1.05"/>
<line x1="306.50" y1="213.75" x2="306.50" y2="223.00" stroke="#330812" stroke-width="1.05"/>
<line x1="304.50" y1="223.00" x2="308.50" y2="223.00" stroke="#330812" stroke-width="1.05"/>
<line x1="304.50" y1="204.50" x2="308.50" y2="204.50" stroke="#0c0c14" stroke-width="1.05"/>
<rect x="311.25" y="231.25" width="9.50" height="6.85" fill="#2b467f"/>
<line x1="316.00" y1="228.25" x2="316.00" y2="231.25" stroke="#0c0c14" stroke-width="1.05"/>
<line x1="316.00" y1="231.25" x2="316.00" y2="234.25" stroke="#0b1430" stroke-width="1.05"/>
<line x1="314.00" y1="234.25" x2="318.00" y2="234.25" stroke="#0b1430" stroke-width="1.05"/>
<line x1="314.00" y1="228.25" x2="318.00" y2="228.25" stroke="#0c0c14" stroke-width="1.05"/>
<rect x="323.75" y="189.25" width="9.50" height="48.85" fill="#b00c2e"/>
<line x1="328.50" y1="174.25" x2="328.50" y2="189.25" stroke="#0c0c14" stroke-width="1.05"/>
<line x1="328.50" y1="189.25" x2="328.50" y2="203.75" stroke="#330812" stroke-width="1.05"/>
<line x1="326.50" y1="203.75" x2="330.50" y2="203.75" stroke="#330812" stroke-width="1.05"/>
<line x1="326.50" y1="174.25" x2="330.50" y2="174.25" stroke="#0c0c14" stroke-width="1.05"/>
<rect x="333.25" y="196.75" width="9.50" height="41.35" fill="#2b467f"/>
<line x1="338.00" y1="188.25" x2="338.00" y2="196.75" stroke="#0c0c14" stroke-width="1.05"/>
<line x1="338.00" y1="196.75" x2="338.00" y2="205.00" stroke="#0b1430" stroke-width="1.05"/>
<line x1="336.00" y1="205.00" x2="340.00" y2="205.00" stroke="#0b1430" stroke-width="1.05"/>
<line x1="336.00" y1="188.25" x2="340.00" y2="188.25" stroke="#0c0c14" stroke-width="1.05"/>
<line x1="257.00" y1="157.10" x2="257.00" y2="238.80" stroke="#111" stroke-width="1.4"/>
<line x1="256.30" y1="238.10" x2="346.60" y2="238.10" stroke="#111" stroke-width="1.4"/>
<line x1="257.00" y1="238.10" x2="257.00" y2="241.00" stroke="#111" stroke-width="1.2"/>
<line x1="278.70" y1="238.10" x2="278.70" y2="241.00" stroke="#111" stroke-width="1.2"/>
<line x1="300.40" y1="238.10" x2="300.40" y2="241.00" stroke="#111" stroke-width="1.2"/>
<line x1="322.10" y1="238.10" x2="322.10" y2="241.00" stroke="#111" stroke-width="1.2"/>
<line x1="343.80" y1="238.10" x2="343.80" y2="241.00" stroke="#111" stroke-width="1.2"/>
<text x="268.00" y="250.70" font-size="7.4" text-anchor="middle"  >0</text>
<text x="289.50" y="250.70" font-size="7.4" text-anchor="middle"  >10</text>
<text x="311.25" y="250.70" font-size="7.4" text-anchor="middle"  >24</text>
<text x="333.00" y="250.70" font-size="7.4" text-anchor="middle"  >48</text>
<line x1="253.90" y1="175.80" x2="257.00" y2="175.80" stroke="#111" stroke-width="1.2"/>
<text x="251.50" y="178.65" font-size="8.1" text-anchor="end"  >2</text>
<line x1="253.90" y1="207.00" x2="257.00" y2="207.00" stroke="#111" stroke-width="1.2"/>
<text x="251.50" y="209.85" font-size="8.1" text-anchor="end"  >1</text>
<line x1="253.90" y1="238.10" x2="257.00" y2="238.10" stroke="#111" stroke-width="1.2"/>
<text x="251.50" y="240.95" font-size="8.1" text-anchor="end"  >0</text>
<text x="260.00" y="167.60" font-size="7.4" text-anchor="start" font-style="italic" >Alas2</text>
<polyline points="278.75,228.75 278.75,226.25 297.50,226.25 297.50,228.75" fill="none" stroke="#111" stroke-width="1.15"/>
<text x="288.25" y="226.00" font-size="6.6" text-anchor="middle" style="stroke-width:0.45px" >*</text>
<polyline points="301.25,205.00 301.25,202.50 320.50,202.50 320.50,205.00" fill="none" stroke="#111" stroke-width="1.15"/>
<text x="311.25" y="201.75" font-size="6.6" text-anchor="middle" style="stroke-width:0.45px" >*</text>
<line x1="46.25" y1="262.10" x2="171.70" y2="262.10" stroke="#2e2e2e" stroke-width="1.25"/>
<line x1="207.20" y1="262.10" x2="341.90" y2="262.10" stroke="#2e2e2e" stroke-width="1.25"/>
<path d="M345.90,262.10 L339.00,259.40 L340.70,262.10 L339.00,264.80 Z" fill="#111"/>
<text x="189" y="263.60" class="cn" font-size="9" text-anchor="middle" textLength="27.5" lengthAdjust="spacingAndGlyphs">Time (hr)</text>
<text x="7.3" y="16.9" font-size="11" font-weight="bold" style="stroke-width:0.35px">A</text>
<text x="177.6" y="17" font-size="11" font-weight="bold" style="stroke-width:0.35px">B</text>
<text x="7.3" y="149.6" font-size="11" font-weight="bold" style="stroke-width:0.35px">C</text>
<path d="M0,0H520V274H0Z M1.3,1.3V272.45H518.3V1.3Z" fill="#000" fill-rule="evenodd"/>
</svg>
</body></html>
